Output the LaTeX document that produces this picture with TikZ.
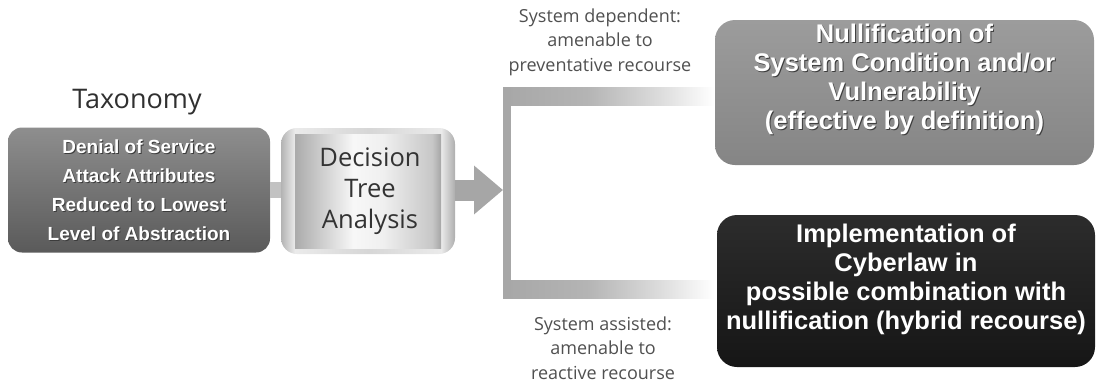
\documentclass[tikz,border=0pt]{standalone}
\usepackage{fontspec}
\setmainfont{Liberation Sans}
\newfontfamily\lightsans{Open Sans}
\usetikzlibrary{arrows.meta}

\definecolor{taxtop}{HTML}{8E8E8E}
\definecolor{taxmid}{HTML}{777777}
\definecolor{taxbot}{HTML}{5A5A5A}
\definecolor{nultop}{HTML}{9C9C9C}
\definecolor{nulmid}{HTML}{C4C4C4}
\definecolor{nulbot}{HTML}{858585}
\definecolor{cybtop}{HTML}{2C2C2C}
\definecolor{cybbot}{HTML}{161616}
\definecolor{linkgray}{HTML}{C2C2C2}
\definecolor{arrowgray}{HTML}{A6A6A6}
\definecolor{bargray}{HTML}{A7A7A7}
\definecolor{labelgray}{HTML}{505050}
\definecolor{titlegray}{HTML}{303030}
\definecolor{dtatext}{HTML}{333333}
\definecolor{shadowgray}{HTML}{3C3C3C}

% frame of the decision tree box: grey rims, pale middle
\pgfdeclarehorizontalshading{dtaframe}{100bp}{%
  color(0bp)=(black!30); color(25bp)=(black!30); color(29bp)=(black!8);
  color(50bp)=(black!16); color(71bp)=(black!8); color(75bp)=(black!32);
  color(100bp)=(black!32)}
% inner panel of the decision tree box
\pgfdeclarehorizontalshading{dtapanel}{100bp}{%
  color(0bp)=(black!33); color(25bp)=(black!33); color(45bp)=(black!3);
  color(55bp)=(black!6); color(72bp)=(black!22); color(75bp)=(black!35);
  color(100bp)=(black!35)}
% bracket arms fading out towards the outcomes
\pgfdeclarehorizontalshading{armfade}{100bp}{%
  color(0bp)=(bargray); color(25bp)=(bargray); color(45bp)=(bargray!85!white);
  color(62bp)=(bargray!40!white); color(75bp)=(white); color(100bp)=(white)}

\begin{document}
\begin{tikzpicture}[x=1pt,y=-1pt,
  taxbox/.style={rounded corners=14pt, inner sep=0pt,
    top color=taxtop, middle color=taxmid, bottom color=taxbot},
  dtabox/.style={rounded corners=16pt, inner sep=0pt, shading=dtaframe},
  dtainner/.style={inner sep=0pt, shading=dtapanel},
  nulbox/.style={rounded corners=20pt, inner sep=0pt,
    top color=nultop, middle color=nulmid, bottom color=nulbot},
  cybbox/.style={rounded corners=20pt, inner sep=0pt,
    top color=cybtop, bottom color=cybbot},
  whitetext/.style={align=center, inner sep=0pt, text=white},
  shadetext/.style={align=center, inner sep=0pt, text=shadowgray,
    xshift=1pt, yshift=-1pt},
  smallfont/.style={font=\bfseries\fontsize{19}{29}\selectfont},
  bigfont/.style={font=\bfseries\fontsize{25.5}{29}\selectfont},
  sidelabel/.style={align=center, inner sep=0pt, text=labelgray,
    font=\lightsans\fontsize{18}{24.5}\selectfont},
  link/.style={draw=linkgray, line width=16pt},
  bigarrow/.style={draw=arrowgray, line width=21pt,
    -{Triangle[length=29pt,width=47pt]}},
]
\useasboundingbox (0,0) rectangle (1097,386);

% title above the taxonomy box
\node[text=titlegray, inner sep=0pt, font=\lightsans\fontsize{27}{30}\selectfont]
  (title) at (137,102) {Taxonomy};

% taxonomy box
\node[taxbox, minimum width=262pt, minimum height=125pt] (tax) at (139,190) {};
\node[shadetext, smallfont] (taxs) at (tax.center)
  {Denial of Service\\Attack Attributes\\Reduced to Lowest\\Level of Abstraction};
\node[whitetext, smallfont] (taxt) at (tax.center)
  {Denial of Service\\Attack Attributes\\Reduced to Lowest\\Level of Abstraction};

% decision tree box: rounded frame with a flat inner panel
\node[dtabox, minimum width=174pt, minimum height=126pt] (dta) at (368,191) {};
\node[dtainner, minimum width=146pt, minimum height=114pt] (dtain) at (dta.center) {};
\node[align=center, inner sep=0pt, text=dtatext,
  font=\lightsans\fontsize{25.5}{31}\selectfont] (dtat) at (370,191)
  {Decision\\Tree\\Analysis};

% link between the first two boxes
\draw[link] (tax.east) -- (tax.east -| dta.west);

% bracket that splits into the two outcomes
\coordinate (brk) at (503,190);
\coordinate (brktop) at (503,87);
\coordinate (brkbot) at (503,298);
\coordinate (endtop) at (714,105);
\coordinate (endbot) at (714,280);
\fill[shading=armfade] (brktop) rectangle (endtop);
\fill[shading=armfade] (brkbot) rectangle (endbot);
\fill[bargray] (brktop) rectangle ([xshift=8pt]brkbot);

% arrow from the decision tree into the bracket
\draw[bigarrow] (dta.east |- brk) -- (brk);

% branch labels
\node[sidelabel] (uplabel) at (600,42)
  {System dependent:\\amenable to\\preventative recourse};
\node[sidelabel] (lowlabel) at (603,348)
  {System assisted:\\amenable to\\reactive recourse};

% outcome: nullification
\node[nulbox, minimum width=379pt, minimum height=145pt] (nul) at (904.5,92.5) {};
\node[shadetext, bigfont] (nuls) at ([yshift=13pt]nul.center)
  {Nullification of\\System Condition and/or\\Vulnerability\\(effective by definition)};
\node[whitetext, bigfont] (nult) at ([yshift=13pt]nul.center)
  {Nullification of\\System Condition and/or\\Vulnerability\\(effective by definition)};

% outcome: cyberlaw
\node[cybbox, minimum width=378pt, minimum height=152pt] (cyb) at (906,291) {};
\node[whitetext, bigfont] (cybt) at ([yshift=12pt]cyb.center)
  {Implementation of\\Cyberlaw in\\possible combination with\\nullification (hybrid recourse)};
\end{tikzpicture}
\end{document}
